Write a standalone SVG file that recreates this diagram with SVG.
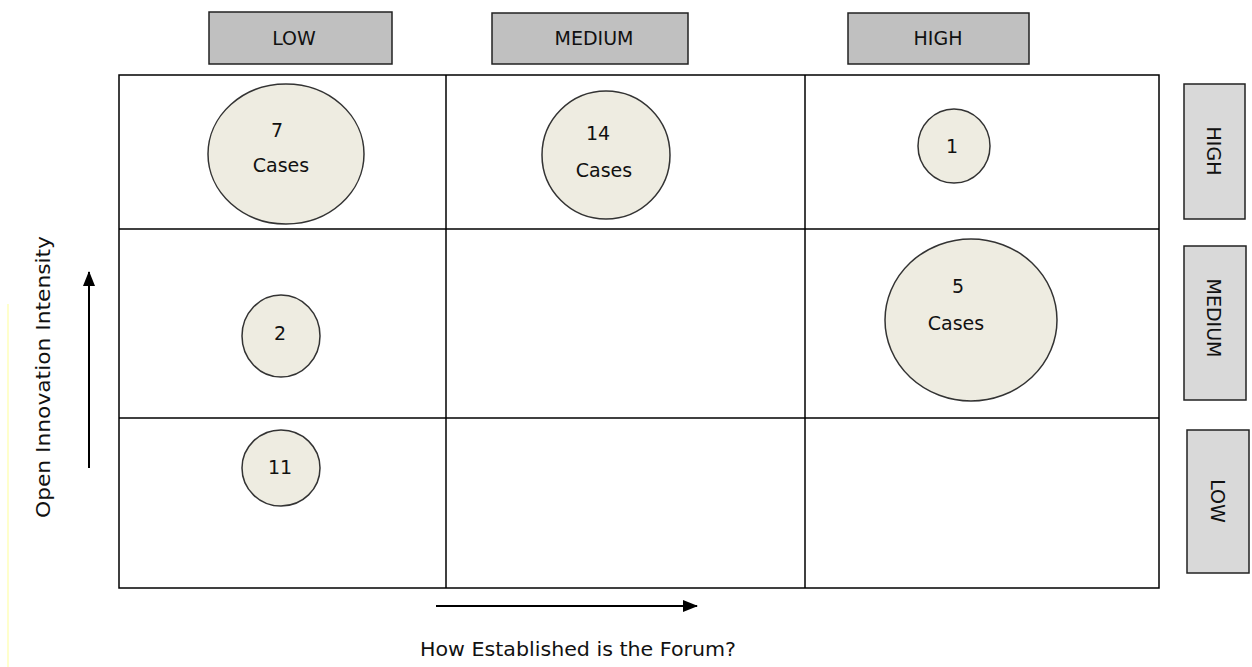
<svg xmlns="http://www.w3.org/2000/svg" width="1252" height="667" viewBox="0 0 1252 667">
<defs>
<style>
text{font-family:"DejaVu Sans","Liberation Sans",sans-serif;font-size:19px;fill:#111;text-anchor:middle;dominant-baseline:central}
.hdr{fill:#c0c0c0;stroke:#222;stroke-width:1.5}
.side{fill:#d9d9d9;stroke:#222;stroke-width:1.5}
.grid{fill:none;stroke:#000;stroke-width:1.5}
.bub{fill:#eeece1;stroke:#333;stroke-width:1.5}
.arr{stroke:#000;stroke-width:2;fill:none}
</style>
<marker id="ah" viewBox="0 0 15 12" refX="14" refY="6" markerWidth="15" markerHeight="12" orient="auto" markerUnits="userSpaceOnUse">
<path d="M0,0 L15,6 L0,12 Z" fill="#000"/>
</marker>
</defs>
<rect width="1252" height="667" fill="#fff"/>
<line x1="8" y1="304" x2="8" y2="667" stroke="#ffffcc" stroke-width="2"/>
<g id="col-low"><rect class="hdr" x="209" y="12" width="183" height="52"/><text x="294" y="38">LOW</text></g>
<g id="col-medium"><rect class="hdr" x="492" y="13" width="196" height="51"/><text x="594" y="38">MEDIUM</text></g>
<g id="col-high"><rect class="hdr" x="848" y="13" width="181" height="51"/><text x="938" y="38">HIGH</text></g>
<g id="grid">
<rect class="grid" x="119" y="75" width="1040" height="513"/>
<line class="grid" x1="446" y1="75" x2="446" y2="588"/>
<line class="grid" x1="805" y1="75" x2="805" y2="588"/>
<line class="grid" x1="119" y1="229" x2="1159" y2="229"/>
<line class="grid" x1="119" y1="418" x2="1159" y2="418"/>
</g>
<g id="row-high"><rect class="side" x="1184" y="84" width="61" height="135"/><text transform="translate(1214,151) rotate(90)">HIGH</text></g>
<g id="row-medium"><rect class="side" x="1184" y="246" width="62" height="154"/><text transform="translate(1214,318) rotate(90)">MEDIUM</text></g>
<g id="row-low"><rect class="side" x="1187" y="430" width="62" height="143"/><text transform="translate(1218,501) rotate(90)">LOW</text></g>
<g id="b7"><ellipse class="bub" cx="286" cy="154" rx="78" ry="70"/><text x="277" y="130">7</text><text x="281" y="165">Cases</text></g>
<g id="b14"><ellipse class="bub" cx="606" cy="155" rx="64" ry="64"/><text x="598" y="133">14</text><text x="604" y="170">Cases</text></g>
<g id="b1"><ellipse class="bub" cx="954" cy="146" rx="36" ry="37"/><text x="952" y="146">1</text></g>
<g id="b2"><ellipse class="bub" cx="281" cy="336" rx="39" ry="41"/><text x="280" y="333">2</text></g>
<g id="b11"><ellipse class="bub" cx="281" cy="468" rx="39" ry="38"/><text x="280" y="467">11</text></g>
<g id="b5"><ellipse class="bub" cx="971" cy="320" rx="86" ry="81"/><text x="958" y="286">5</text><text x="956" y="323">Cases</text></g>
<g id="connectors">
<line class="arr" x1="89" y1="468" x2="89" y2="272" marker-end="url(#ah)"/>
<line class="arr" x1="436" y1="606" x2="697" y2="606" marker-end="url(#ah)"/>
</g>
<text transform="translate(43,377) rotate(-90)" textLength="282" lengthAdjust="spacingAndGlyphs">Open Innovation Intensity</text>
<text x="578" y="649" textLength="316" lengthAdjust="spacingAndGlyphs">How Established is the Forum?</text>
</svg>
